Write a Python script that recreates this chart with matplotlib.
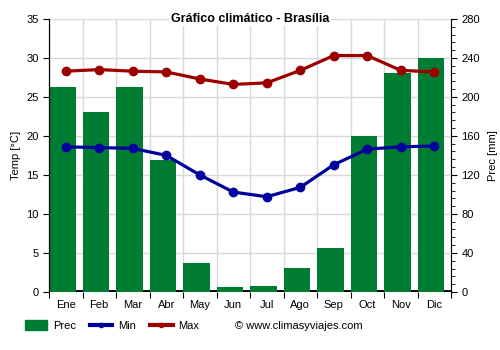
import numpy as np
import matplotlib
matplotlib.use('Agg')
import matplotlib.pyplot as plt
from matplotlib.lines import Line2D
from matplotlib.patches import Patch

plt.rcParams['font.family'] = ['Liberation Sans', 'DejaVu Sans']

meses = ['Ene', 'Feb', 'Mar', 'Abr', 'May', 'Jun', 'Jul', 'Ago', 'Sep', 'Oct', 'Nov', 'Dic']
prec = [210, 185, 210, 135, 30, 5, 6, 25, 45, 160, 225, 240]
t_min = [18.6, 18.5, 18.4, 17.5, 15.0, 12.8, 12.2, 13.4, 16.3, 18.3, 18.6, 18.7]
t_max = [28.3, 28.5, 28.3, 28.2, 27.3, 26.6, 26.8, 28.4, 30.3, 30.3, 28.4, 28.2]

verde = '#007d32'
azul = '#00009c'
rojo = '#9c0000'

fig = plt.figure(figsize=(5, 3.5), dpi=100)
ax = fig.add_axes([0.098, 0.166, 0.804, 0.78])
ax2 = ax.twinx()

x = np.arange(len(meses))

# barras de precipitacion en el eje derecho
ax2.bar(x - 0.1, prec, width=0.8, color=verde, zorder=2)
ax2.axhline(0, color='black', lw=3.5, zorder=1)
ax2.set_ylim(0, 280)
ax2.set_yticks(np.arange(0, 281, 40))
ax2.set_yticks(np.arange(0, 281, 8), minor=True)
ax2.set_ylabel('Prec [mm]', fontsize=8, labelpad=6)

# rejilla detras de las barras
for y in np.arange(40, 281, 40):
    ax2.axhline(y, color='#d9d9d9', lw=1, zorder=0)
for b in np.arange(-0.5, 12, 1):
    ax2.axvline(b, color='#d9d9d9', lw=1, zorder=0)

# temperaturas por encima de las barras
ax.set_zorder(ax2.get_zorder() + 1)
ax.patch.set_visible(False)
ax.plot(x, t_max, color=rojo, lw=2.3, marker='o', ms=6, zorder=3)
ax.plot(x, t_min, color=azul, lw=2.3, marker='o', ms=6, zorder=3)
ax.set_ylim(0, 35)
ax.set_yticks(np.arange(0, 36, 5))
ax.set_ylabel('Temp [°C]', fontsize=8, labelpad=4)
ax.set_xlim(-0.5, 11.5)
ax.set_xticks(np.arange(-0.5, 12, 1))
ax.set_xticklabels([])
ax.set_xticks(x, minor=True)
ax.set_xticklabels(meses, minor=True)
ax.tick_params(axis='x', which='minor', length=0, labelsize=8, pad=6)
ax.tick_params(axis='x', which='major', length=4, color='black')
ax.tick_params(axis='y', labelsize=8, length=4)
ax2.tick_params(axis='y', which='major', labelsize=8, length=4)
ax2.tick_params(axis='y', which='minor', length=3)
ax2.tick_params(axis='x', length=0)

for a in (ax, ax2):
    a.spines['top'].set_visible(False)
    a.spines['bottom'].set_visible(False)
ax.spines['right'].set_visible(False)

ax.set_title('Gráfico climático - Brasília', fontsize=9, fontweight='bold', y=0.99, pad=0,
             bbox=dict(facecolor='white', edgecolor='none', pad=1))

handles = [Patch(color=verde),
           Line2D([], [], color=azul, lw=3, marker='o', ms=3),
           Line2D([], [], color=rojo, lw=3, marker='o', ms=3)]
fig.legend(handles, ['Prec', 'Min', 'Max'], loc='center left', bbox_to_anchor=(0.03, 0.069),
           ncol=3, frameon=False, fontsize=8, handlelength=2.0, handleheight=1.0,
           columnspacing=1.3, handletextpad=0.5)
fig.text(0.47, 0.069, '© www.climasyviajes.com', fontsize=8, va='center')

fig.savefig('out.png', dpi=100)
